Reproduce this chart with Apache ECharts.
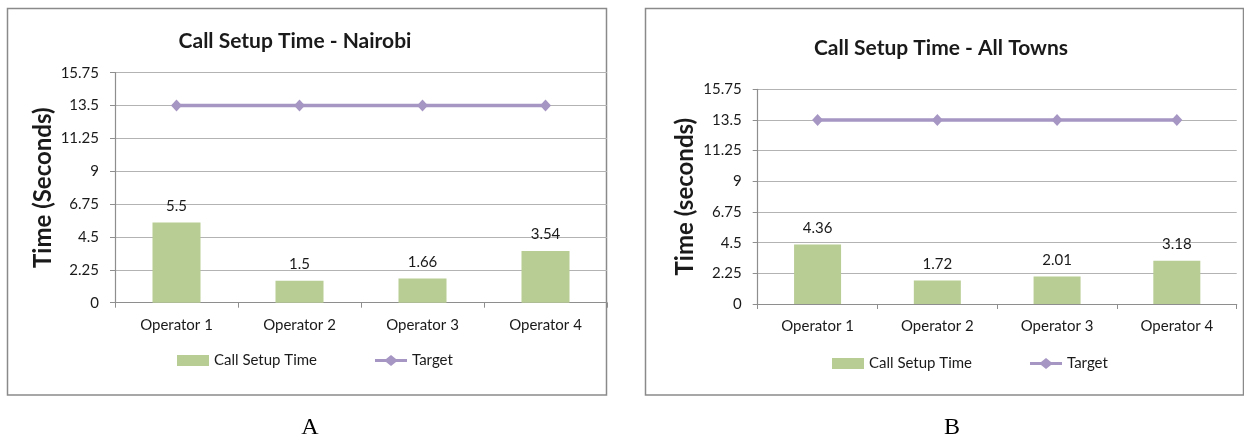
<!DOCTYPE html>
<html>
<head>
<meta charset="utf-8">
<script src="https://cdn.jsdelivr.net/npm/echarts@6/dist/echarts.min.js"></script>
<style>
  html, body { margin: 0; padding: 0; background: #ffffff; }
  #chart { width: 1244px; height: 438px; }
</style>
</head>
<body>
<div id="chart"></div>
<script>
// Call setup time per operator, with the common target line
const operators = ['Operator 1', 'Operator 2', 'Operator 3', 'Operator 4'];
const nairobiTimes = [5.5, 1.5, 1.66, 3.54];
const allTownsTimes = [4.36, 1.72, 2.01, 3.18];
const targetTimes = [13.5, 13.5, 13.5, 13.5];
const yMin = 0;
const yMax = 15.75;
const yStep = 2.25;
const panelTitles = ['Call Setup Time - Nairobi', 'Call Setup Time - All Towns'];
const axisNames = ['Time (Seconds)', 'Time (seconds)'];
const panelLetters = ['A', 'B'];

const FONT = 'Lato, "Open Sans", sans-serif';
const TEXT = '#1a1a1a';
const BAR = '#B8CD94';
const LINE = '#A696C3';
const GRID = '#B3B3B3';
const AXIS = '#8E8E8E';

// line with a diamond in the middle, for the legend entry of the target series
const LINE_DIAMOND_ICON = 'path://M0,4 L11,4 L16,0 L21,4 L32,4 L32,7 L21,7 L16,11 L11,7 L0,7 Z';

const grids = [
  { left: 115, top: 72.7, width: 492, height: 230 },
  { left: 757.7, top: 89.3, width: 479, height: 214.7 }
];

function xAxisFor(i) {
  return {
    type: 'category', gridIndex: i, data: operators,
    axisLine: { lineStyle: { color: AXIS, width: 1.2 } },
    axisTick: { show: true, length: 5, lineStyle: { color: AXIS } },
    axisLabel: { color: TEXT, fontFamily: FONT, fontSize: 15, margin: 15 }
  };
}
function yAxisFor(i, nameGap) {
  return {
    type: 'value', gridIndex: i, min: yMin, max: yMax, interval: yStep,
    name: axisNames[i], nameLocation: 'middle', nameRotate: 90, nameGap: nameGap,
    nameTextStyle: { color: TEXT, fontFamily: FONT, fontWeight: 'bold', fontSize: 24 },
    axisLine: { show: true, lineStyle: { color: AXIS, width: 1.2 } },
    axisTick: { show: true, length: 5, lineStyle: { color: AXIS } },
    axisLabel: { color: TEXT, fontFamily: FONT, fontSize: 15, margin: 16 },
    splitLine: { show: true, lineStyle: { color: GRID, width: 1.2 } }
  };
}
function barSeries(i, values, width) {
  return {
    name: 'Call Setup Time', type: 'bar', xAxisIndex: i, yAxisIndex: i,
    data: values, barWidth: width,
    itemStyle: { color: BAR },
    label: { show: true, position: 'top', distance: 9, color: TEXT, fontFamily: FONT, fontSize: 15 }
  };
}
function lineSeries(i) {
  return {
    name: 'Target', type: 'line', xAxisIndex: i, yAxisIndex: i,
    data: targetTimes, symbol: 'diamond', symbolSize: [11, 12],
    lineStyle: { color: LINE, width: 3.5 },
    itemStyle: { color: LINE }, z: 3
  };
}
function legendFor(left, top) {
  return {
    left: left, top: top, padding: 0, itemGap: 58, itemWidth: 32, itemHeight: 11,
    textStyle: { color: TEXT, fontFamily: FONT, fontSize: 15 },
    data: [{ name: 'Call Setup Time', icon: 'rect' }, { name: 'Target', icon: LINE_DIAMOND_ICON }]
  };
}

const chart = echarts.init(document.getElementById('chart'), null, { renderer: 'canvas' });
chart.setOption({
  backgroundColor: '#ffffff',
  animation: false,
  title: [
    { text: panelTitles[0], left: 295, top: 31, textAlign: 'center', padding: 0,
      textStyle: { color: TEXT, fontFamily: FONT, fontWeight: 'bold', fontSize: 21 } },
    { text: panelTitles[1], left: 941, top: 38, textAlign: 'center', padding: 0,
      textStyle: { color: TEXT, fontFamily: FONT, fontWeight: 'bold', fontSize: 21 } }
  ],
  legend: [legendFor(177, 353), legendFor(832, 356)],
  grid: grids,
  xAxis: [xAxisFor(0), xAxisFor(1)],
  yAxis: [yAxisFor(0, 60), yAxisFor(1, 60)],
  series: [
    barSeries(0, nairobiTimes, 48), lineSeries(0),
    barSeries(1, allTownsTimes, 47), lineSeries(1)
  ],
  graphic: [
    { type: 'rect', shape: { x: 7.5, y: 8.5, width: 599, height: 386.5 },
      style: { fill: null, stroke: '#8A8A8A', lineWidth: 1.5 }, z: -1 },
    { type: 'rect', shape: { x: 645.5, y: 8.5, width: 598, height: 386.5 },
      style: { fill: null, stroke: '#8A8A8A', lineWidth: 1.5 }, z: -1 },
    { type: 'text', x: 310, y: 428,
      style: { text: panelLetters[0], fill: '#000', font: '24px "Liberation Serif", serif',
               textAlign: 'center', textVerticalAlign: 'middle' } },
    { type: 'text', x: 952, y: 428,
      style: { text: panelLetters[1], fill: '#000', font: '24px "Liberation Serif", serif',
               textAlign: 'center', textVerticalAlign: 'middle' } }
  ]
});
</script>
</body>
</html>
